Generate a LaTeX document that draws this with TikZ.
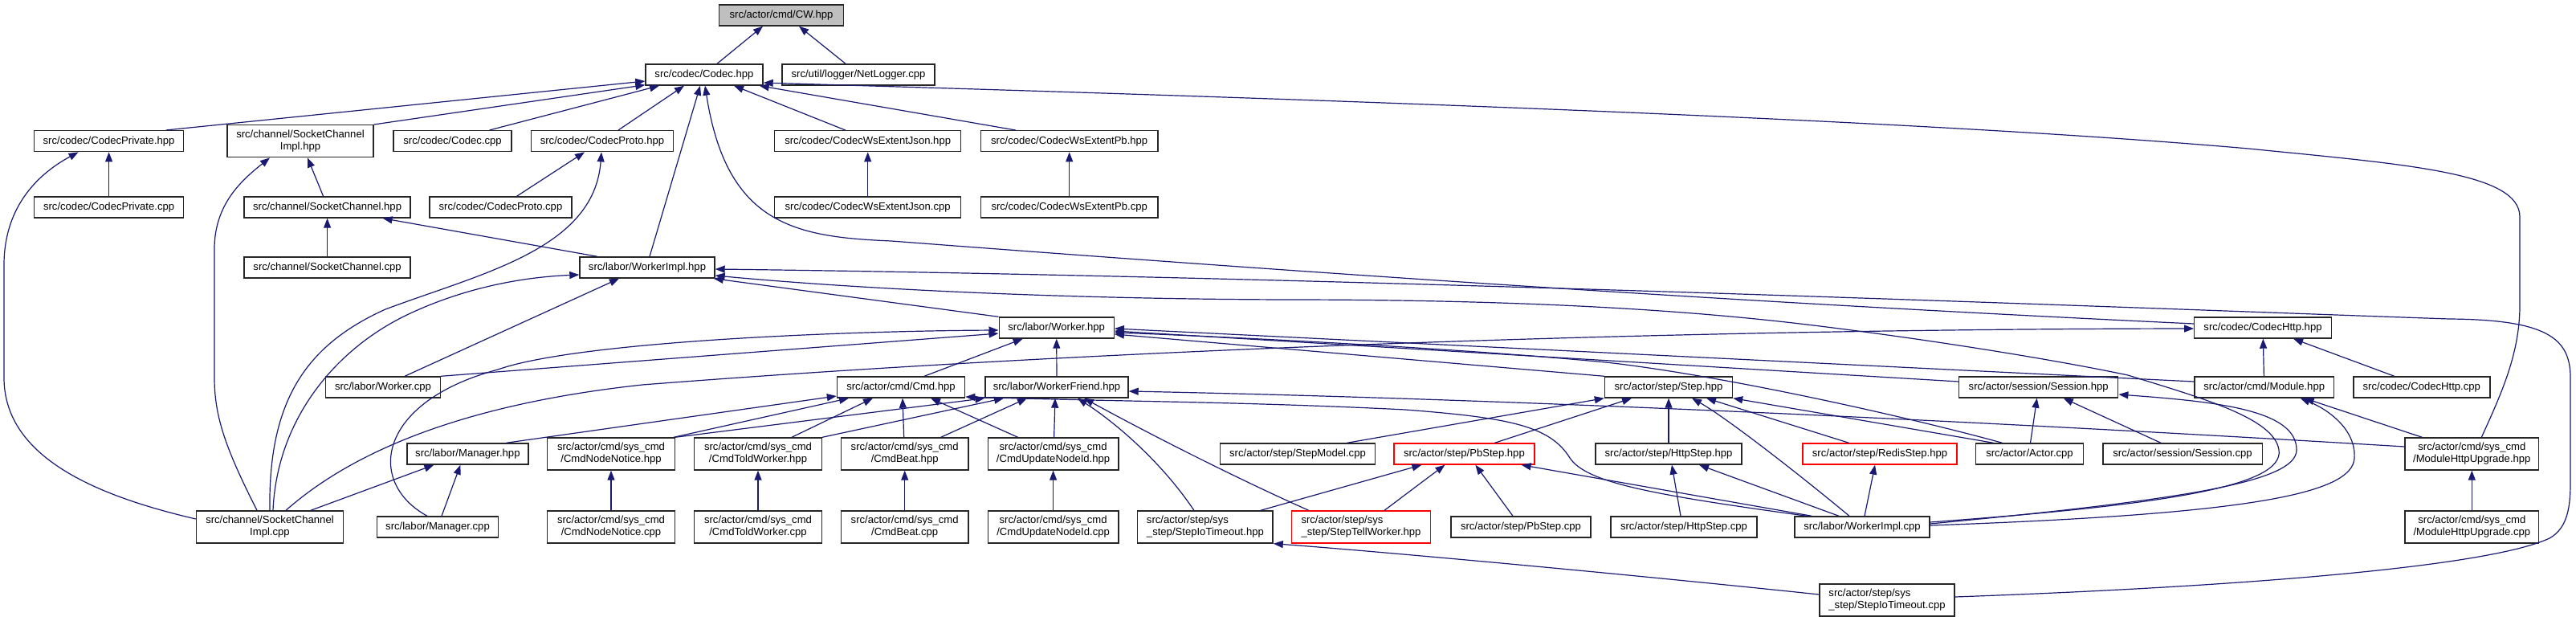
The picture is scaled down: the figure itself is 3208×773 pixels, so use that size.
\documentclass[tikz,border=0pt]{standalone}
\usepackage{fontspec}
\setmainfont{Liberation Sans}
\usetikzlibrary{arrows.meta}
\definecolor{edgeblue}{HTML}{191970}
\definecolor{cwgray}{RGB}{191,191,191}
\begin{document}
\begin{tikzpicture}[x=1pt,y=-1pt,
  box/.style={draw=black!85, line width=1.4pt, fill=white, font=\fontsize{13.1}{15}\selectfont, inner sep=0pt, minimum height=26pt, align=center},
  two/.style={minimum height=40pt},
  redbox/.style={draw=red},
  edge/.style={draw=edgeblue, line width=1.2pt, -{Triangle[length=12pt,width=9pt]}},
]
\useasboundingbox[fill=white] (0,0) rectangle (3208,773);
% ---------- nodes ----------
\node[box,fill=cwgray,minimum width=155pt] (cw) at (973,19) {src/actor/cmd/CW.hpp};
\node[box,minimum width=146pt] (codec) at (877,93) {src/codec/Codec.hpp};
\node[box,minimum width=190pt] (netlogger) at (1069,93) {src/util/logger/NetLogger.cpp};
\node[box,minimum width=186pt] (codecprivh) at (135.6,175.7) {src/codec/CodecPrivate.hpp};
\node[box,two,minimum width=182pt] (scimplh) at (374,175.7) {src/channel/SocketChannel\\Impl.hpp};
\node[box,minimum width=147pt] (codeccpp) at (563.6,175.7) {src/codec/Codec.cpp};
\node[box,minimum width=177pt] (codecprotoh) at (750,175.7) {src/codec/CodecProto.hpp};
\node[box,minimum width=232pt] (wsjsonh) at (1080.7,175.7) {src/codec/CodecWsExtentJson.hpp};
\node[box,minimum width=220.5pt] (wspbh) at (1331.7,175.7) {src/codec/CodecWsExtentPb.hpp};
\node[box,minimum width=186pt] (codecprivcpp) at (135.6,258) {src/codec/CodecPrivate.cpp};
\node[box,minimum width=207pt] (sch) at (407.6,258) {src/channel/SocketChannel.hpp};
\node[box,minimum width=177pt] (codecprotocpp) at (623.5,258) {src/codec/CodecProto.cpp};
\node[box,minimum width=232pt] (wsjsoncpp) at (1080.7,258) {src/codec/CodecWsExtentJson.cpp};
\node[box,minimum width=220.5pt] (wspbcpp) at (1331.7,258) {src/codec/CodecWsExtentPb.cpp};
\node[box,minimum width=207pt] (sccpp) at (407.6,333) {src/channel/SocketChannel.cpp};
\node[box,minimum width=168pt] (workerimplh) at (806,333) {src/labor/WorkerImpl.hpp};
\node[box,minimum width=143pt] (workerh) at (1315.7,408) {src/labor/Worker.hpp};
\node[box,minimum width=170.5pt] (codechttph) at (2818,408) {src/codec/CodecHttp.hpp};
\node[box,minimum width=142.5pt] (workercpp) at (477,482) {src/labor/Worker.cpp};
\node[box,minimum width=159pt] (cmdh) at (1122,482) {src/actor/cmd/Cmd.hpp};
\node[box,minimum width=178pt] (workerfriendh) at (1316,482) {src/labor/WorkerFriend.hpp};
\node[box,minimum width=159pt] (steph) at (2078,482) {src/actor/step/Step.hpp};
\node[box,minimum width=198pt] (sessionh) at (2538.7,482) {src/actor/session/Session.hpp};
\node[box,minimum width=173.7pt] (moduleh) at (2819.7,482) {src/actor/cmd/Module.hpp};
\node[box,minimum width=170pt] (codechttpcpp) at (3015.8,482) {src/codec/CodecHttp.cpp};
\node[box,minimum width=151pt] (managerh) at (582.4,565) {src/labor/Manager.hpp};
\node[box,two,minimum width=158.5pt] (nodenoticeh) at (761,565) {src/actor/cmd/sys\_cmd\\/CmdNodeNotice.hpp};
\node[box,two,minimum width=158.6pt] (toldworkerh) at (944,565) {src/actor/cmd/sys\_cmd\\/CmdToldWorker.hpp};
\node[box,two,minimum width=158.6pt] (beath) at (1126.7,565) {src/actor/cmd/sys\_cmd\\/CmdBeat.hpp};
\node[box,two,minimum width=162.7pt] (updatenodeidh) at (1311.6,565) {src/actor/cmd/sys\_cmd\\/CmdUpdateNodeId.hpp};
\node[box,minimum width=192.5pt] (stepmodelcpp) at (1616,565) {src/actor/step/StepModel.cpp};
\node[box,redbox,minimum width=175pt] (pbsteph) at (1823.4,565) {src/actor/step/PbStep.hpp};
\node[box,minimum width=182pt] (httpsteph) at (2078,565) {src/actor/step/HttpStep.hpp};
\node[box,redbox,minimum width=192pt] (redissteph) at (2341,565) {src/actor/step/RedisStep.hpp};
\node[box,minimum width=133.5pt] (actorcpp) at (2527.5,565) {src/actor/Actor.cpp};
\node[box,minimum width=198.4pt] (sessioncpp) at (2718,565) {src/actor/session/Session.cpp};
\node[box,two,minimum width=166.5pt] (modhttpuph) at (3078.3,565) {src/actor/cmd/sys\_cmd\\/ModuleHttpUpgrade.hpp};
\node[box,two,minimum width=183pt] (scimplcpp) at (336,656) {src/channel/SocketChannel\\Impl.cpp};
\node[box,minimum width=151pt] (managercpp) at (545,656) {src/labor/Manager.cpp};
\node[box,two,minimum width=158.5pt] (nodenoticecpp) at (761,656) {src/actor/cmd/sys\_cmd\\/CmdNodeNotice.cpp};
\node[box,two,minimum width=158.6pt] (toldworkercpp) at (944,656) {src/actor/cmd/sys\_cmd\\/CmdToldWorker.cpp};
\node[box,two,minimum width=158.6pt] (beatcpp) at (1126.7,656) {src/actor/cmd/sys\_cmd\\/CmdBeat.cpp};
\node[box,two,minimum width=162.7pt] (updatenodeidcpp) at (1311.6,656) {src/actor/cmd/sys\_cmd\\/CmdUpdateNodeId.cpp};
\node[box,two,align=left,minimum width=168.4pt] (stepiotimeouth) at (1500.9,656) {src/actor/step/sys\\\_step/StepIoTimeout.hpp};
\node[box,two,redbox,align=left,minimum width=173pt] (steptellworkerh) at (1695,656) {src/actor/step/sys\\\_step/StepTellWorker.hpp};
\node[box,minimum width=174pt] (pbstepcpp) at (1894,656) {src/actor/step/PbStep.cpp};
\node[box,minimum width=182pt] (httpstepcpp) at (2097,656) {src/actor/step/HttpStep.cpp};
\node[box,minimum width=168pt] (workerimplcpp) at (2319,656) {src/labor/WorkerImpl.cpp};
\node[box,two,minimum width=166.5pt] (modhttpupcpp) at (3078.3,656) {src/actor/cmd/sys\_cmd\\/ModuleHttpUpgrade.cpp};
\node[box,two,align=left,minimum width=168pt] (stepiotimeoutcpp) at (2350,747) {src/actor/step/sys\\\_step/StepIoTimeout.cpp};
% ---------- edges ----------
\draw[edge] ([xshift=16pt]codec.north) -- ([xshift=-23pt]cw.south);
\draw[edge] ([xshift=-16pt]netlogger.north) -- ([xshift=22pt]cw.south);
\draw[edge] ([xshift=71pt]codecprivh.north) -- ([yshift=-8pt]codec.west);
\draw[edge] (scimplh.north east) -- ([yshift=1pt]codec.south west);
\draw[edge] ([xshift=46pt]codeccpp.north) -- ([xshift=-56pt]codec.south);
\draw[edge] ([xshift=20pt]codecprotoh.north) -- ([xshift=-25pt]codec.south);
\draw[edge] ([xshift=3pt]workerimplh.north) -- ([xshift=-5pt]codec.south);
\draw[edge] ([yshift=5pt]codechttph.west) .. controls (2200,378) and (1700,345) .. (1110,300) .. controls (990,295) and (905,280) .. ([xshift=1pt]codec.south);
\draw[edge] ([xshift=-28pt]wsjsonh.north) -- ([xshift=37pt]codec.south);
\draw[edge] ([xshift=-67pt]wspbh.north) -- ([xshift=-5pt]codec.south east);
\draw[edge] ([xshift=12pt]modhttpuph.north) .. controls (3115,490) and (3138,440) .. (3138,380) -- (3138,270) .. controls (3138,215) and (3000,205) .. (2800,185) .. controls (2400,150) and (1700,125) .. ([yshift=-10pt]codec.east);
\draw[edge] (codecprivcpp) -- (codecprivh);
\draw[edge] ([xshift=-5pt]sch.north) -- ([xshift=9pt]scimplh.south);
\draw[edge] (sccpp) -- (sch);
\draw[edge] ([xshift=-62pt]workerimplh.north) -- ([xshift=69pt]sch.south);
\draw[edge] ([xshift=20pt]codecprotocpp.north) -- ([xshift=-22pt]codecprotoh.south);
\draw[edge] (wsjsoncpp) -- (wsjsonh);
\draw[edge] (wspbcpp) -- (wspbh);
% SocketChannelImpl.cpp
\draw[edge] ([yshift=10pt]scimplcpp.west) .. controls (110,615) and (5,565) .. (5,470) -- (5,330) .. controls (5,255) and (50,215) .. ([xshift=-38pt]codecprivh.south);
\draw[edge] ([xshift=-16pt]scimplcpp.north) .. controls (282,560) and (267,520) .. (267,470) -- (267,310) .. controls (267,255) and (300,225) .. ([xshift=-38pt]scimplh.south);
\draw[edge] (scimplcpp.north) .. controls (334,500) and (380,430) .. (480,385) .. controls (600,340) and (740,310) .. ([xshift=-1pt]codecprotoh.south);
\draw[edge] ([xshift=4pt]scimplcpp.north) .. controls (345,520) and (420,432) .. (511,390) .. controls (580,358) and (650,345) .. ([yshift=-9pt]workerimplh.west);
\draw[edge] ([xshift=20pt]scimplcpp.north) .. controls (430,570) and (560,505) .. (800,479) .. controls (1300,440) and (2000,410) .. ([yshift=-1pt]codechttph.west);
\draw[edge] ([xshift=51pt]scimplcpp.north) -- ([xshift=-42pt]managerh.south);
% Manager / Worker
\draw[edge] ([xshift=5pt]managercpp.north) -- ([xshift=-9pt]managerh.south);
\draw[edge] ([xshift=-13pt]managercpp.north) .. controls (455,600) and (470,500) .. (620,460) .. controls (720,425) and (1050,412) .. ([yshift=-3pt]workerh.west);
\draw[edge] (workercpp.north east) -- ([yshift=-7pt]workerh.west);
\draw[edge] ([xshift=27pt]workercpp.north) -- ([xshift=-35pt]workerimplh.south);
\draw[edge] (workerh.north west) -- ([xshift=-2pt]workerimplh.south east);
\draw[edge] ([yshift=6pt]workerimplcpp.east) .. controls (2700,628) and (2845,605) .. (2838,560) .. controls (2832,520) and (2740,495) .. (2650,467) .. controls (2560,448) and (2400,422) .. (2250,404) .. controls (2100,386) and (1900,373) .. (1600,373) .. controls (1300,372) and (1050,358) .. ([yshift=-10pt]workerimplh.east);
\draw[edge] ([yshift=4pt]stepiotimeoutcpp.east) .. controls (2800,730) and (3100,705) .. (3175,670) .. controls (3198,657) and (3201,630) .. (3201,600) -- (3201,470) .. controls (3201,420) and (3170,398) .. (3050,397) .. controls (2700,385) and (1700,345) .. ([yshift=-2pt]workerimplh.east);
\draw[edge] ([xshift=29pt]cmdh.north) -- ([xshift=-42pt]workerh.south);
\draw[edge] (workerfriendh) -- (workerh);
\draw[edge] (steph.north west) -- ([yshift=-8pt]workerh.east);
\draw[edge] ([yshift=7pt]sessionh.west) -- ([yshift=-4pt]workerh.east);
\draw[edge] ([yshift=7pt]moduleh.west) -- ([yshift=-1pt]workerh.east);
\draw[edge] ([xshift=-34pt]actorcpp.north) .. controls (2380,520) and (2150,468) .. (2000,451) .. controls (1800,432) and (1500,418) .. ([yshift=-6pt]workerh.east);
% Cmd / WorkerFriend
\draw[edge] ([xshift=48pt]managerh.north) -- ([yshift=-11pt]cmdh.west);
\draw[edge] ([xshift=-2pt]nodenoticeh.north east) -- ([xshift=-65pt]cmdh.south);
\draw[edge] (nodenoticeh.north east) -- (workerfriendh.south west);
\draw[edge] ([xshift=42pt]toldworkerh.north) -- ([xshift=-35pt]cmdh.south);
\draw[edge] (toldworkerh.north east) -- ([xshift=-66pt]workerfriendh.south);
\draw[edge] ([xshift=-1pt]beath.north) -- ([xshift=2pt]cmdh.south);
\draw[edge] ([xshift=45pt]beath.north) -- ([xshift=-37pt]workerfriendh.south);
\draw[edge] ([xshift=-44pt]updatenodeidh.north) -- ([xshift=37pt]cmdh.south);
\draw[edge] ([xshift=1pt]updatenodeidh.north) -- ([xshift=-2pt]workerfriendh.south);
\draw[edge] ([xshift=-14pt]stepiotimeouth.north) .. controls (1450,580) and (1395,530) .. ([xshift=26pt]workerfriendh.south);
\draw[edge] ([xshift=22pt]steptellworkerh.north west) .. controls (1550,600) and (1440,545) .. ([xshift=34pt]workerfriendh.south);
\draw[edge] ([yshift=9pt]modhttpuph.west) .. controls (2500,526) and (1900,497) .. ([yshift=-5pt]workerfriendh.east);
\draw[edge] ([xshift=16pt]workerimplcpp.north west) .. controls (2050,615) and (1975,600) .. (1955,570) .. controls (1930,530) and (1880,520) .. (1750,510) .. controls (1550,500) and (1400,500) .. ([yshift=-12pt]cmdh.east);
% Step
\draw[edge] ([xshift=61.5pt]stepmodelcpp.north) -- (steph.south west);
\draw[edge] ([xshift=38pt]pbsteph.north) -- ([xshift=-46pt]steph.south);
\draw[edge] (httpsteph) -- (steph);
\draw[edge] ([xshift=-16pt]workerimplcpp.north) .. controls (2240,590) and (2150,520) .. ([xshift=29pt]steph.south);
\draw[edge] ([xshift=-38.5pt]redissteph.north) -- ([xshift=47pt]steph.south);
\draw[edge] ([xshift=-45pt]actorcpp.north) -- (steph.south east);
\draw[edge] ([xshift=-10pt]pbstepcpp.north) -- ([xshift=14pt]pbsteph.south);
\draw[edge] ([xshift=29pt]steptellworkerh.north) -- ([xshift=-24pt]pbsteph.south);
\draw[edge] ([xshift=69pt]stepiotimeouth.north) -- ([xshift=-53pt]pbsteph.south);
\draw[edge] ([xshift=22pt]workerimplcpp.north west) -- ([xshift=-17pt]pbsteph.south east);
\draw[edge] ([xshift=-4pt]httpstepcpp.north) -- ([xshift=4pt]httpsteph.south);
\draw[edge] ([xshift=-29pt]workerimplcpp.north) -- ([xshift=38pt]httpsteph.south);
\draw[edge] ([xshift=3pt]workerimplcpp.north) -- ([xshift=-6pt]redissteph.south);
% Session / Module / CodecHttp
\draw[edge] ([yshift=4pt]workerimplcpp.east) .. controls (2720,622) and (2860,600) .. (2860,560) .. controls (2860,510) and (2760,500) .. ([yshift=-9pt]sessionh.east);
\draw[edge] ([yshift=2pt]workerimplcpp.east) .. controls (2800,640) and (2930,615) .. (2932,570) .. controls (2934,535) and (2900,510) .. ([xshift=45pt]moduleh.south);
\draw[edge] ([xshift=-62pt]modhttpuph.north) -- ([xshift=50pt]moduleh.south);
\draw[edge] (moduleh) -- (codechttph);
\draw[edge] ([xshift=-34pt]codechttpcpp.north) -- ([xshift=38pt]codechttph.south);
\draw[edge] ([xshift=1pt]actorcpp.north) -- ([xshift=-2pt]sessionh.south);
\draw[edge] ([xshift=-27pt]sessioncpp.north) -- ([xshift=31pt]sessionh.south);
\draw[edge] (modhttpupcpp) -- (modhttpuph);
% sys_cmd cpp
\draw[edge] (nodenoticecpp) -- (nodenoticeh);
\draw[edge] (toldworkercpp) -- (toldworkerh);
\draw[edge] (beatcpp) -- (beath);
\draw[edge] (updatenodeidcpp) -- (updatenodeidh);
\draw[edge] ([yshift=7pt]stepiotimeoutcpp.west) .. controls (2000,712) and (1700,685) .. (stepiotimeouth.south east);
\end{tikzpicture}
\end{document}
